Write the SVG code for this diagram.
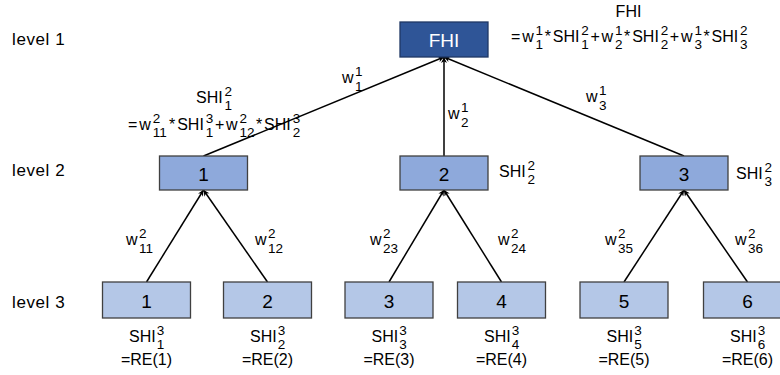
<svg xmlns="http://www.w3.org/2000/svg" width="780" height="375" viewBox="0 0 780 375">
<defs>
<marker id="ah" viewBox="0 0 10 10" refX="10" refY="5" markerWidth="7" markerHeight="6" markerUnits="userSpaceOnUse" orient="auto">
<path d="M0,0 L10,5 L0,10 L3,5 z" fill="#000"/>
</marker>
<style>
text{font-family:"Liberation Sans",Arial,sans-serif;fill:#000}
.m{font-size:16px}
.s{font-size:13.5px}
.lvl{font-size:17px;letter-spacing:0.6px}
.num{font-size:19px;text-anchor:middle}
.mid{text-anchor:middle}
.w{fill:#fff}
.b1{fill:#2F5597;stroke:#1F3864;stroke-width:1.3}
.b2{fill:#8EA9DB;stroke:#404040;stroke-width:1.3}
.b3{fill:#B4C7E7;stroke:#404040;stroke-width:1.3}
.c{stroke:#000;stroke-width:1.5;fill:none;marker-end:url(#ah)}
</style>
</defs>
<rect width="780" height="375" fill="#fff"/>

<g id="levels">
<text class="lvl" x="12" y="45">level 1</text>
<text class="lvl" x="12" y="176">level 2</text>
<text class="lvl" x="12" y="308">level 3</text>
</g>

<g id="connectors">
<line class="c" x1="146.5" y1="282" x2="203.5" y2="190"/>
<line class="c" x1="267.5" y1="282" x2="203.5" y2="190"/>
<line class="c" x1="389" y1="282" x2="444" y2="190"/>
<line class="c" x1="501.5" y1="282" x2="444" y2="190"/>
<line class="c" x1="624" y1="282" x2="684" y2="190"/>
<line class="c" x1="747.5" y1="282" x2="684" y2="190"/>
<line class="c" x1="203.5" y1="156" x2="444" y2="57"/>
<line class="c" x1="444" y1="156" x2="444" y2="57"/>
<line class="c" x1="684" y1="156" x2="444" y2="57"/>
</g>

<g id="fhi">
<rect class="b1" x="400" y="22" width="88" height="35"/>
<text class="num w" x="444" y="46.5">FHI</text>
</g>
<g id="n2-1">
<rect class="b2" x="159.5" y="156" width="88" height="34"/>
<text class="num" x="203.5" y="180.5">1</text>
</g>
<g id="n2-2">
<rect class="b2" x="400" y="156" width="88" height="34"/>
<text class="num" x="444" y="180.5">2</text>
</g>
<g id="n2-3">
<rect class="b2" x="640" y="156" width="88" height="34"/>
<text class="num" x="684" y="180.5">3</text>
</g>
<g id="n3-1">
<rect class="b3" x="102.5" y="282" width="88" height="36"/>
<text class="num" x="146.5" y="307.5">1</text>
</g>
<g id="n3-2">
<rect class="b3" x="223.5" y="282" width="88" height="36"/>
<text class="num" x="267.5" y="307.5">2</text>
</g>
<g id="n3-3">
<rect class="b3" x="345" y="282" width="88" height="36"/>
<text class="num" x="389" y="307.5">3</text>
</g>
<g id="n3-4">
<rect class="b3" x="457.5" y="282" width="88" height="36"/>
<text class="num" x="501.5" y="307.5">4</text>
</g>
<g id="n3-5">
<rect class="b3" x="580" y="282" width="88" height="36"/>
<text class="num" x="624" y="307.5">5</text>
</g>
<g id="n3-6">
<rect class="b3" x="703.5" y="282" width="88" height="36"/>
<text class="num" x="747.5" y="307.5">6</text>
</g>

<g id="weights">
<text class="m" x="342" y="83">w<tspan class="s" x="355" y="76">1</tspan><tspan class="s" x="355" y="91">1</tspan></text>
<text class="m" x="448" y="119">w<tspan class="s" x="461" y="112">1</tspan><tspan class="s" x="461" y="127">2</tspan></text>
<text class="m" x="586" y="102">w<tspan class="s" x="599" y="95">1</tspan><tspan class="s" x="599" y="110">3</tspan></text>
<text class="m" x="126" y="245">w<tspan class="s" x="139" y="238">2</tspan><tspan class="s" x="139" y="253">11</tspan></text>
<text class="m" x="255" y="245">w<tspan class="s" x="268" y="238">2</tspan><tspan class="s" x="268" y="253">12</tspan></text>
<text class="m" x="370" y="245">w<tspan class="s" x="383" y="238">2</tspan><tspan class="s" x="383" y="253">23</tspan></text>
<text class="m" x="498" y="245">w<tspan class="s" x="511" y="238">2</tspan><tspan class="s" x="511" y="253">24</tspan></text>
<text class="m" x="605" y="245">w<tspan class="s" x="618" y="238">2</tspan><tspan class="s" x="618" y="253">35</tspan></text>
<text class="m" x="735" y="245">w<tspan class="s" x="748" y="238">2</tspan><tspan class="s" x="748" y="253">36</tspan></text>
</g>

<g id="formulas">
<text class="m mid" x="628.5" y="17">FHI</text>
<text class="m" x="511" y="42">=<tspan x="522.2">w</tspan><tspan class="s" x="535.6" y="35">1</tspan><tspan class="s" x="535.6" y="49">1</tspan><tspan x="544.7" y="42">*</tspan><tspan x="552.8">SHI</tspan><tspan class="s" x="581.3" y="35">2</tspan><tspan class="s" x="581.3" y="49">1</tspan><tspan x="590.4" y="42">+</tspan><tspan x="601.6">w</tspan><tspan class="s" x="615" y="35">1</tspan><tspan class="s" x="615" y="49">2</tspan><tspan x="624.1" y="42">*</tspan><tspan x="632.2">SHI</tspan><tspan class="s" x="660.7" y="35">2</tspan><tspan class="s" x="660.7" y="49">2</tspan><tspan x="669.8" y="42">+</tspan><tspan x="681">w</tspan><tspan class="s" x="694.4" y="35">1</tspan><tspan class="s" x="694.4" y="49">3</tspan><tspan x="703.5" y="42">*</tspan><tspan x="711.6">SHI</tspan><tspan class="s" x="740.1" y="35">2</tspan><tspan class="s" x="740.1" y="49">3</tspan></text>

<text class="m" x="196" y="103">SHI<tspan class="s" x="224.6" y="96">2</tspan><tspan class="s" x="224.6" y="110">1</tspan></text>
<text class="m" x="128" y="130">=<tspan x="139.2">w</tspan><tspan class="s" x="152.7" y="123">2</tspan><tspan class="s" x="152.7" y="137">11</tspan><tspan x="169.1" y="130">*</tspan><tspan x="177.2">SHI</tspan><tspan class="s" x="205.8" y="123">3</tspan><tspan class="s" x="205.8" y="137">1</tspan><tspan x="214.9" y="130">+</tspan><tspan x="226.1">w</tspan><tspan class="s" x="239.6" y="123">2</tspan><tspan class="s" x="239.6" y="137">12</tspan><tspan x="256" y="130">*</tspan><tspan x="264.1">SHI</tspan><tspan class="s" x="292.7" y="123">3</tspan><tspan class="s" x="292.7" y="137">2</tspan></text>

<text class="m" x="499" y="177">SHI<tspan class="s" x="527.5" y="170">2</tspan><tspan class="s" x="527.5" y="184">2</tspan></text>
<text class="m" x="736" y="179">SHI<tspan class="s" x="764.5" y="172">2</tspan><tspan class="s" x="764.5" y="186">3</tspan></text>

<text class="m" x="129" y="342">SHI<tspan class="s" x="156.7" y="335">3</tspan><tspan class="s" x="156.7" y="349">1</tspan></text>
<text class="m mid" x="146.5" y="365">=RE(1)</text>
<text class="m" x="250" y="342">SHI<tspan class="s" x="277.7" y="335">3</tspan><tspan class="s" x="277.7" y="349">2</tspan></text>
<text class="m mid" x="267.5" y="365">=RE(2)</text>
<text class="m" x="371.5" y="342">SHI<tspan class="s" x="399.2" y="335">3</tspan><tspan class="s" x="399.2" y="349">3</tspan></text>
<text class="m mid" x="389" y="365">=RE(3)</text>
<text class="m" x="484" y="342">SHI<tspan class="s" x="511.7" y="335">3</tspan><tspan class="s" x="511.7" y="349">4</tspan></text>
<text class="m mid" x="501.5" y="365">=RE(4)</text>
<text class="m" x="606.5" y="342">SHI<tspan class="s" x="634.2" y="335">3</tspan><tspan class="s" x="634.2" y="349">5</tspan></text>
<text class="m mid" x="624" y="365">=RE(5)</text>
<text class="m" x="730" y="342">SHI<tspan class="s" x="757.7" y="335">3</tspan><tspan class="s" x="757.7" y="349">6</tspan></text>
<text class="m mid" x="747.5" y="365">=RE(6)</text>
</g>
</svg>
